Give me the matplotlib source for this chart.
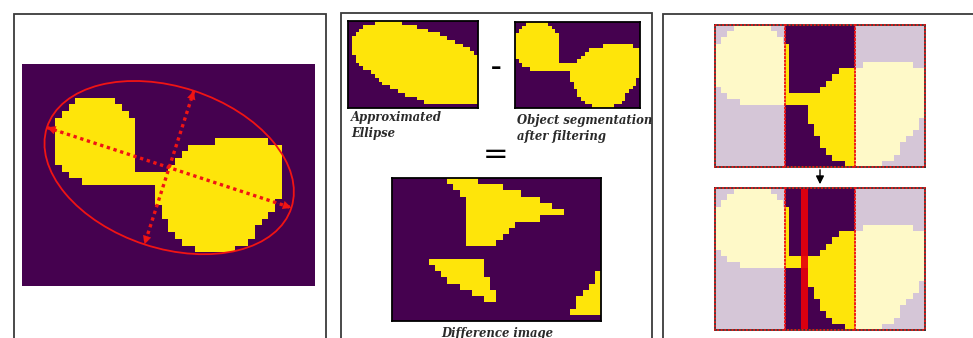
import numpy as np
import matplotlib
matplotlib.use('Agg')
import matplotlib.pyplot as plt
from matplotlib.colors import ListedColormap
from matplotlib.patches import Ellipse, Rectangle, FancyArrowPatch

W, H = 973, 338

# === Segmented object on a 44 x 33 grid: row -> [(first col, end col), ...] ===
grid_shape = (33, 44)
object_rows = {
    5: [(8, 14)],
    6: [(7, 15)],
    7: [(6, 16)],
    8: [(5, 17)],
    9: [(5, 17)],
    10: [(5, 17)],
    11: [(5, 17), (29, 37)],
    12: [(5, 17), (25, 39)],
    13: [(5, 17), (24, 39)],
    14: [(5, 17), (23, 39)],
    15: [(6, 17), (22, 39)],
    16: [(7, 39)],
    17: [(9, 39)],
    18: [(20, 39)],
    19: [(20, 39)],
    20: [(20, 38)],
    21: [(21, 38)],
    22: [(21, 37)],
    23: [(22, 36)],
    24: [(22, 35)],
    25: [(23, 35)],
    26: [(24, 34)],
    27: [(26, 32)],
}

# bounding window used for the smaller views (rows, cols)
crop_rows = (5, 28)
crop_cols = (5, 39)

# approximated ellipse mask inside the window, one span per row (None = empty)
ellipse_rows = [
    (7, 14), (4, 18), (3, 21), (2, 24), (1, 26), (1, 28), (1, 30), (1, 32),
    (1, 33), (2, 34), (2, 34), (3, 34), (4, 34), (6, 34), (7, 34), (8, 34),
    (9, 34), (11, 34), (13, 34), (15, 34), (18, 34), (20, 34), None,
]

# fitted ellipse on the full grid
ellipse_center = (22.1, 15.4)
ellipse_semi_axes = (19.3, 12.0)
ellipse_angle = 18.0

# column removed in the split view
split_col = 14

purple, yellow, red = '#45014f', '#fee50a', '#f01414'
cmap = ListedColormap([purple, yellow])


def spans_to_mask(rows, shape):
    mask = np.zeros(shape, dtype=int)
    for r, spans in rows.items():
        for c0, c1 in spans:
            mask[r, c0:c1] = 1
    return mask


def px_axes(fig, x0, y0, x1, y1):
    return fig.add_axes([x0 / W, 1 - y1 / H, (x1 - x0) / W, (y1 - y0) / H])


def show_mask(ax, mask, border=None):
    h, w = mask.shape
    ax.imshow(mask, cmap=cmap, vmin=0, vmax=1, interpolation='nearest',
              extent=(0, w, h, 0), aspect='auto')
    ax.set_xticks([])
    ax.set_yticks([])
    for sp in ax.spines.values():
        if border is None:
            sp.set_visible(False)
        else:
            sp.set_color(border)
            sp.set_linewidth(1.3)


obj = spans_to_mask(object_rows, grid_shape)
obj_crop = obj[crop_rows[0]:crop_rows[1], crop_cols[0]:crop_cols[1]]
ell = spans_to_mask({r: [s] for r, s in enumerate(ellipse_rows) if s is not None},
                    obj_crop.shape)
diff = ell * (1 - obj_crop)

fig = plt.figure(figsize=(W / 100, H / 100), dpi=100)

# panel frames
for x0, y0, x1 in [(13.5, 14, 326), (341, 13, 652), (663, 14, 990)]:
    fig.patches.append(Rectangle((x0 / W, -0.05), (x1 - x0) / W, 1.05 - y0 / H,
                                 transform=fig.transFigure, fill=False,
                                 edgecolor='#3a3a3a', lw=1.3))

# === Panel 1: object with fitted ellipse and its axes ===
ax1 = px_axes(fig, 22, 64, 315, 286)
show_mask(ax1, obj)
ax1.add_patch(Ellipse(ellipse_center, 2 * ellipse_semi_axes[0], 2 * ellipse_semi_axes[1],
                      angle=ellipse_angle, fill=False, edgecolor=red, lw=1.3))
theta = np.deg2rad(ellipse_angle)
directions = [(np.cos(theta), np.sin(theta)), (-np.sin(theta), np.cos(theta))]
for semi, (dx, dy) in zip(ellipse_semi_axes, directions):
    cx, cy = ellipse_center
    p0 = (cx - semi * dx, cy - semi * dy)
    p1 = (cx + semi * dx, cy + semi * dy)
    ax1.plot([p0[0], p1[0]], [p0[1], p1[1]], color=red, lw=2.4,
             linestyle=(0, (1, 1.1)))
    for tip, back in [(p0, p1), (p1, p0)]:
        inner = (tip[0] + 0.08 * (back[0] - tip[0]), tip[1] + 0.08 * (back[1] - tip[1]))
        ax1.annotate('', xy=tip, xytext=inner,
                     arrowprops=dict(arrowstyle='-|>', color=red, lw=0.1,
                                     mutation_scale=15, shrinkA=0, shrinkB=0))
ax1.set_xlim(0, grid_shape[1])
ax1.set_ylim(grid_shape[0], 0)

# === Panel 2: ellipse - object = difference ===
ax_e = px_axes(fig, 348, 21, 478, 108)
show_mask(ax_e, ell, border='black')
ax_o = px_axes(fig, 515, 22, 640, 108)
show_mask(ax_o, obj_crop, border='black')
ax_d = px_axes(fig, 392, 178, 601, 321)
show_mask(ax_d, diff, border='black')

text_kw = dict(family='DejaVu Serif', style='italic', fontweight='bold',
               fontsize=8.4, color='#2a2a2a', linespacing=1.3)
fig.text(351 / W, 1 - 111 / H, 'Approximated\nEllipse', va='top', ha='left', **text_kw)
fig.text(517 / W, 1 - 114 / H, 'Object segmentation\nafter filtering', va='top',
         ha='left', **text_kw)
fig.text(497 / W, 1 - 333 / H, 'Difference image', va='center', ha='center', **text_kw)
fig.text(496 / W, 1 - 68 / H, '\u2013', ha='center', va='center', fontsize=15,
         fontweight='bold', color='black')
fig.text(496 / W, 1 - 154 / H, '=', ha='center', va='center', fontsize=22,
         color='black')

# === Panel 3: window split into thirds, before and after removing a column ===
h, w = obj_crop.shape
for (y0, y1), with_cut in [((25, 167), False), ((188, 330), True)]:
    ax = px_axes(fig, 715, y0, 925, y1)
    show_mask(ax, obj_crop, border='#333333')
    for c0 in (0, 2 * w / 3):
        ax.add_patch(Rectangle((c0, 0), w / 3, h, facecolor='white', alpha=0.78,
                               edgecolor='none'))
    if with_cut:
        ax.axvspan(split_col, split_col + 1, color='#e8000b', alpha=0.92, lw=0)
    for k in range(3):
        ax.add_patch(Rectangle((k * w / 3, 0), w / 3, h, fill=False, zorder=4,
                               clip_on=False, edgecolor=red, lw=1.3,
                               linestyle=(0, (1, 1))))
    ax.set_xlim(0, w)
    ax.set_ylim(h, 0)

fig.patches.append(FancyArrowPatch(
    (820 / W, 1 - 167 / H), (820 / W, 1 - 187 / H), transform=fig.transFigure,
    arrowstyle='-|>', mutation_scale=12, color='black', lw=1.0))

fig.savefig('out.png', dpi=100)
